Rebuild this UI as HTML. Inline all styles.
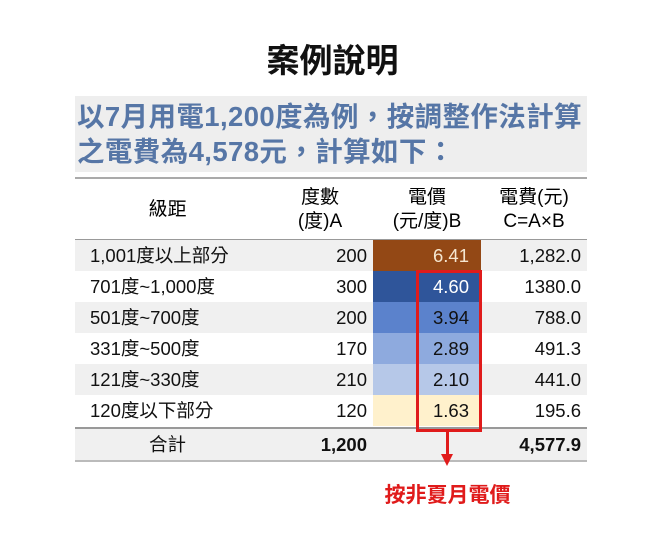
<!DOCTYPE html><html><head><meta charset="utf-8"><style>
body{margin:0;width:665px;height:543px;background:#fff;font-family:"Liberation Sans","Noto Sans CJK TC",sans-serif;position:relative;overflow:hidden}
.a{position:absolute}
.t{left:0;width:665px;top:34px;text-align:center;font-size:33px;font-weight:bold;color:#111}
.sub{left:75px;top:96px;width:512px;height:76px;background:#eeeeee;color:#5676a6;font-weight:bold;font-size:27.5px;line-height:35px;padding:3px 0 0 2px;box-sizing:border-box;white-space:nowrap;letter-spacing:0.4px;overflow:hidden}
.row{left:75px;width:512px;height:31px;font-size:18.5px;color:#111;line-height:31px}
.row div{position:absolute;top:0;height:31px}
.c1{left:15px}
.c2{left:185px;width:107px;text-align:right}
.c3{left:298px;width:108px;text-align:right;box-sizing:border-box;padding-right:12px}
.c4{left:406px;width:100px;text-align:right}
.g{background:#f0f0f0}
</style></head><body>
<div class="a t">案例說明</div>
<div class="a sub">以7月用電1,200度為例，按調整作法計算<br>之電費為4,578元，計算如下：</div>
<div class="a" style="left:75px;top:177px;width:512px;height:2px;background:#aaa"></div>
<div class="a" style="left:75px;top:198px;width:185px;text-align:center;font-size:19px;line-height:24px">級距</div>
<div class="a" style="left:270px;top:186px;width:100px;text-align:center;font-size:19px;line-height:24px">度數<br>(度)A</div>
<div class="a" style="left:373px;top:186px;width:108px;text-align:center;font-size:19px;line-height:24px">電價<br>(元/度)B</div>
<div class="a" style="left:481px;top:186px;width:106px;text-align:center;font-size:19px;line-height:24px">電費(元)<br>C=A×B</div>
<div class="a" style="left:75px;top:239px;width:512px;height:1px;background:#999"></div>

<div class="a row g" style="top:240px"><div class="c1">1,001度以上部分</div><div class="c2">200</div><div class="c3" style="background:#934815;color:#f5e6d0">6.41</div><div class="c4">1,282.0</div></div>
<div class="a row" style="top:271px"><div class="c1">701度~1,000度</div><div class="c2">300</div><div class="c3" style="background:#2f559a;color:#fff">4.60</div><div class="c4">1380.0</div></div>
<div class="a row g" style="top:302px"><div class="c1">501度~700度</div><div class="c2">200</div><div class="c3" style="background:#5b82cc">3.94</div><div class="c4">788.0</div></div>
<div class="a row" style="top:333px"><div class="c1">331度~500度</div><div class="c2">170</div><div class="c3" style="background:#8eaade">2.89</div><div class="c4">491.3</div></div>
<div class="a row g" style="top:364px"><div class="c1">121度~330度</div><div class="c2">210</div><div class="c3" style="background:#b6c8e8">2.10</div><div class="c4">441.0</div></div>
<div class="a row" style="top:395px"><div class="c1">120度以下部分</div><div class="c2">120</div><div class="c3" style="background:#fff1cc">1.63</div><div class="c4">195.6</div></div>
<div class="a" style="left:75px;top:427px;width:512px;height:2px;background:#999"></div>
<div class="a row g" style="top:429px;font-weight:bold"><div class="c1" style="left:0;width:185px;text-align:center;font-weight:normal">合計</div><div class="c2">1,200</div><div class="c4">4,577.9</div></div>
<div class="a" style="left:75px;top:460px;width:512px;height:2px;background:#bbb"></div>

<div class="a" style="left:416px;top:270px;width:60px;height:156px;border:3px solid #e01b1b"></div>
<div class="a" style="left:446px;top:432px;width:3px;height:24px;background:#e01b1b"></div>
<div class="a" style="left:441px;top:454px;width:0;height:0;border-left:6.5px solid transparent;border-right:6.5px solid transparent;border-top:12px solid #e01b1b"></div>
<div class="a" style="left:340px;top:479px;width:215px;text-align:center;color:#e01b1b;font-weight:bold;font-size:21px">按非夏月電價</div>
</body></html>
